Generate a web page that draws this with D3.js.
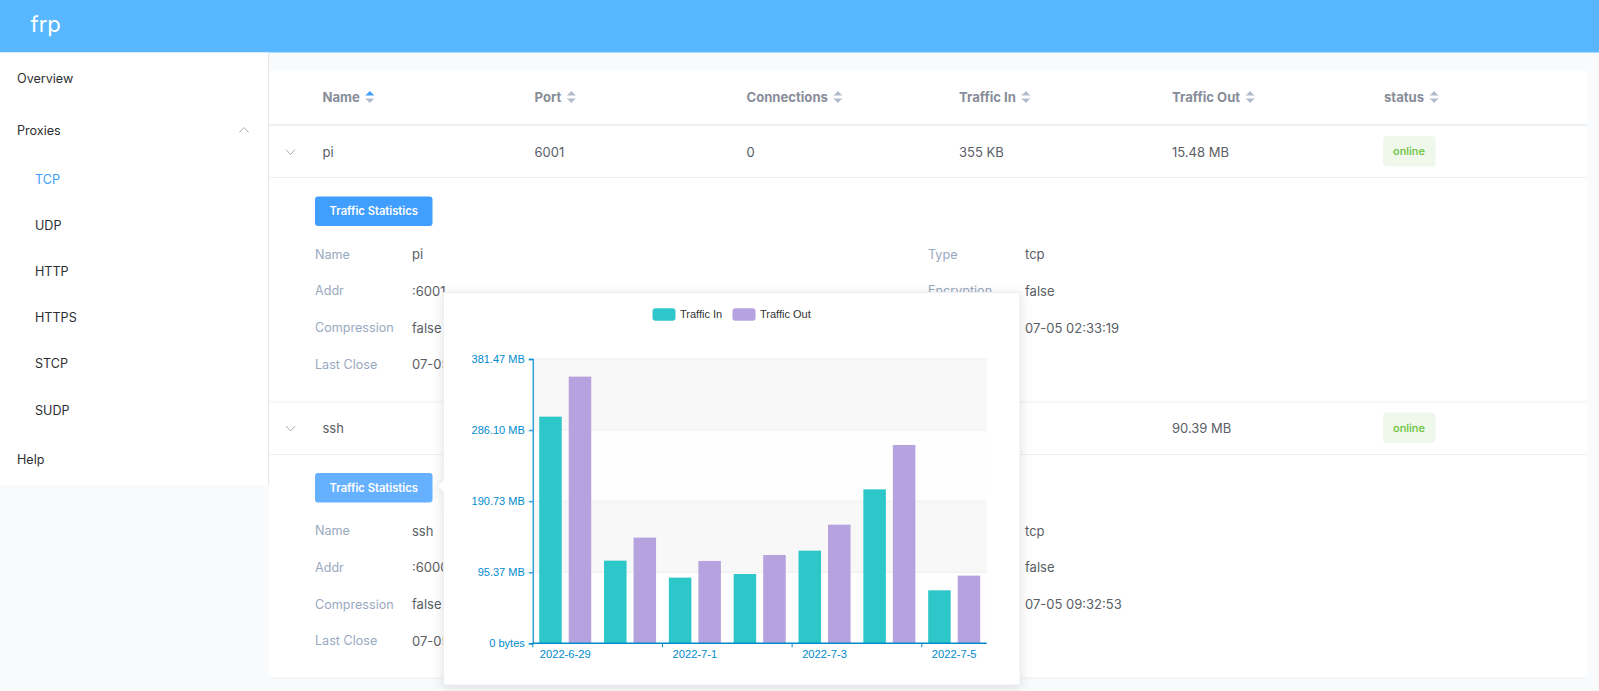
<!DOCTYPE html>
<html>
<head>
<meta charset="utf-8">
<script src="https://d3js.org/d3.v7.min.js"></script>
<style>
  html, body { margin: 0; padding: 0; background: #f9fafc; overflow: hidden; }
  svg { display: block; }
  text { font-family: "Inter", "Noto Sans", sans-serif; }
  .chart text { font-family: "Liberation Sans", Arial, sans-serif; }
</style>
</head>
<body>
<div id="page"></div>
<script>
// chart data (MB)
const days = ["2022-6-29", "2022-6-30", "2022-7-1", "2022-7-2", "2022-7-3", "2022-7-4", "2022-7-5"];
const seriesNames = ["Traffic In", "Traffic Out"];
const trafficIn = [304.1, 110.9, 88.1, 93.0, 124.3, 206.6, 71.1];
const trafficOut = [357.8, 141.8, 110.5, 118.5, 159.2, 266.1, 90.8];
const yTicks = [0, 95.37, 190.73, 286.10, 381.47];
const yTickLabels = ["0 bytes", "95.37 MB", "190.73 MB", "286.10 MB", "381.47 MB"];
const xTickDays = ["2022-6-29", "2022-7-1", "2022-7-3", "2022-7-5"];

// page text
const navItems = ["Overview", "Proxies", "TCP", "UDP", "HTTP", "HTTPS", "STCP", "SUDP", "Help"];
const columns = ["Name", "Port", "Connections", "Traffic In", "Traffic Out", "status"];
const piRow = ["pi", "6001", "0", "355 KB", "15.48 MB"];
const sshRow = ["ssh", "", "", "", "90.39 MB"];
const leftLabels = ["Name", "Addr", "Compression", "Last Close"];
const piLeft = ["pi", ":6001", "false", "07-05"];
const sshLeft = ["ssh", ":6000", "false", "07-05"];
const rightLabels = ["Type", "Encryption"];
const piRight = ["tcp", "false", "07-05 02:33:19"];
const sshRight = ["tcp", "false", "07-05 09:32:53"];

const w = 1599;
const h = 691;
const bodySize = 13;

const svg = d3.select("#page").append("svg").attr("width", w).attr("height", h);

function label(parent, x, y, str, size, color, weight) {
  return parent.append("text")
    .attr("x", x).attr("y", y)
    .attr("dy", "0.35em")
    .attr("font-size", size)
    .attr("font-weight", weight || 400)
    .attr("fill", color)
    .text(str);
}

function chevron(parent, x, y, up) {
  const d = up ? -2.5 : 2.5;
  parent.append("path")
    .attr("d", `M${x - 4.5},${y - d} L${x},${y + d} L${x + 4.5},${y - d}`)
    .attr("fill", "none")
    .attr("stroke", "#a8afb9")
    .attr("stroke-width", 1);
}

// header bar
svg.append("rect").attr("width", w).attr("height", 52.5).attr("fill", "#58b7ff");
label(svg, 30.5, 24.5, "frp", 22, "#fff", 400);

// side menu
svg.append("rect").attr("y", 52.5).attr("width", 268.5).attr("height", 432.5).attr("fill", "#fff");
svg.append("line").attr("x1", 268.5).attr("x2", 268.5).attr("y1", 52.5).attr("y2", 485).attr("stroke", "#e6e6e6");
const navY = [79, 131, 179.5, 226, 272, 318, 364, 410.5, 459.5];
navItems.forEach(function(item, i) {
  const child = i >= 2 && i <= 7;
  label(svg, child ? 35 : 17, navY[i], item, 12.6, item === "TCP" ? "#409eff" : "#2d2f33");
});
chevron(svg, 244, 130, true);

// table card
svg.append("rect").attr("x", 269).attr("y", 70.5).attr("width", 1318).attr("height", 607.5).attr("fill", "#fff");
const columnX = [322.5, 534.5, 746.5, 959, 1172, 1384];
const sep = [[125, 2], [177.5, 1], [402, 1], [454.5, 1], [678, 1]];
sep.forEach(function(s) {
  svg.append("line").attr("x1", 269).attr("x2", 1587).attr("y1", s[0]).attr("y2", s[0])
    .attr("stroke", "#eceff3").attr("stroke-width", s[1]);
});

columns.forEach(function(c, i) {
  const t = label(svg, columnX[i], 97, c, 13.1, "#878d99", 700);
  const caretX = columnX[i] + t.node().getComputedTextLength() + 10;
  svg.append("path").attr("d", `M${caretX - 4.5},95.5 L${caretX},91 L${caretX + 4.5},95.5 Z`)
    .attr("fill", i === 0 ? "#409eff" : "#b4bccc");
  svg.append("path").attr("d", `M${caretX - 4.5},98.5 L${caretX},103 L${caretX + 4.5},98.5 Z`)
    .attr("fill", "#b4bccc");
});

function proxyRow(top, row, left, right, buttonColor) {
  chevron(svg, 290.5, top + 25.5, false);
  row.forEach(function(v, i) {
    label(svg, columnX[i], top + 25.5, v, bodySize, "#5a5e66");
  });
  // status tag
  svg.append("rect").attr("x", 1383).attr("y", top + 9.5).attr("width", 52.5).attr("height", 30.5).attr("rx", 4)
    .attr("fill", "#eff8ea");
  label(svg, 1409, top + 25, "online", 11, "#67c23a", 500).attr("text-anchor", "middle");
  // statistics button
  svg.append("rect").attr("x", 315).attr("y", top + 70).attr("width", 117.5).attr("height", 29.5).attr("rx", 3)
    .attr("fill", buttonColor);
  label(svg, 373.75, top + 85, "Traffic Statistics", 11.2, "#fff", 600).attr("text-anchor", "middle");
  // detail form
  const formY = [128, 164.5, 201.5, 238].map(function(d) { return top + d; });
  leftLabels.forEach(function(l, i) {
    label(svg, 315, formY[i], l, 12.6, "#99a9bf");
    label(svg, 412, formY[i], left[i], bodySize, "#5a5e66");
  });
  rightLabels.forEach(function(l, i) {
    label(svg, 928, formY[i], l, 12.6, "#99a9bf");
  });
  right.forEach(function(v, i) {
    label(svg, 1025, formY[i], v, bodySize, "#5a5e66");
  });
}
proxyRow(126.5, piRow, piLeft, piRight, "#409eff");
proxyRow(403, sshRow, sshLeft, sshRight, "#66b1ff");

// popover with the chart
const pop = svg.append("g");
pop.append("path")
  .attr("d", "M443.5,292.5 H1020 V685 H443.5 V492 L437.5,486 L443.5,480 Z")
  .attr("fill", "#fff")
  .attr("stroke", "#ebeef5")
  .style("filter", "drop-shadow(0 2px 6px rgba(0,0,0,0.12))");

const chart = svg.append("g").attr("class", "chart");
const axisColor = "#008acd";

const x0 = d3.scaleBand().domain(days).range([532.8, 986.6]);
const x1 = d3.scaleBand().domain(seriesNames).range([0, x0.bandwidth()])
  .paddingInner(0.237).paddingOuter(0.217);
const y = d3.scaleLinear().domain([0, yTicks[yTicks.length - 1]]).range([643.3, 359]);
const colors = d3.scaleOrdinal().domain(seriesNames).range(["#2ec7c9", "#b6a2de"]);

// alternating background bands
chart.selectAll("rect.band").data(yTicks.slice(1)).enter().append("rect")
  .attr("class", "band")
  .attr("x", x0.range()[0])
  .attr("width", x0.range()[1] - x0.range()[0])
  .attr("y", function(d) { return y(d); })
  .attr("height", function(d, i) { return y(yTicks[i]) - y(d); })
  .attr("fill", function(d, i) { return i % 2 === 1 ? "#f8f8f8" : "#fefefe"; });

// y axis with grid lines
const yAxis = d3.axisLeft(y).tickValues(yTicks).tickSize(4).tickPadding(4)
  .tickFormat(function(d, i) { return yTickLabels[i]; });
chart.selectAll("line.grid").data(yTicks.slice(1)).enter().append("line")
  .attr("class", "grid")
  .attr("x1", x0.range()[0]).attr("x2", x0.range()[1])
  .attr("y1", function(d) { return y(d); }).attr("y2", function(d) { return y(d); })
  .attr("stroke", "#eee");
const yG = chart.append("g").attr("transform", "translate(" + x0.range()[0] + ",0)").call(yAxis);
yG.selectAll("path,line").attr("stroke", axisColor).attr("stroke-opacity", 0.8).attr("stroke-width", 1.5);
yG.selectAll("text").attr("fill", axisColor).attr("font-size", 11).attr("font-family", null);

// bars
const groups = chart.selectAll("g.day").data(days).enter().append("g")
  .attr("class", "day")
  .attr("transform", function(d) { return "translate(" + x0(d) + ",0)"; });
[trafficIn, trafficOut].forEach(function(values, s) {
  groups.append("rect")
    .attr("x", x1(seriesNames[s]))
    .attr("width", x1.bandwidth())
    .attr("y", function(d, i) { return y(values[i]); })
    .attr("height", function(d, i) { return y(0) - y(values[i]); })
    .attr("fill", colors(seriesNames[s]));
});

// x axis: labels sit in the band centre, tick marks on the band edge
const xAxis = d3.axisBottom(x0).tickValues(xTickDays).tickSize(0).tickPadding(7);
const xG = chart.append("g").attr("transform", "translate(0," + y(0) + ")").call(xAxis);
xG.select("path").attr("stroke", axisColor).attr("stroke-width", 1.5)
  .attr("d", "M" + x0.range()[0] + ",0H" + x0.range()[1]);
xG.selectAll("text").attr("fill", axisColor).attr("font-size", 11.2).attr("font-family", null);
xG.selectAll("line.edge").data(xTickDays).enter().append("line")
  .attr("class", "edge")
  .attr("x1", function(d) { return x0(d); }).attr("x2", function(d) { return x0(d); })
  .attr("y1", 0).attr("y2", 4)
  .attr("stroke", axisColor);

// legend
const legendX = [652.5, 732.5];
seriesNames.forEach(function(name, i) {
  chart.append("rect").attr("x", legendX[i]).attr("y", 308.3).attr("width", 23).attr("height", 12.5).attr("rx", 3)
    .attr("fill", colors(name));
  chart.append("text").attr("x", legendX[i] + 27.5).attr("y", 314.5).attr("dy", "0.35em")
    .attr("font-size", 11).attr("fill", "#333").text(name);
});
</script>
</body>
</html>
